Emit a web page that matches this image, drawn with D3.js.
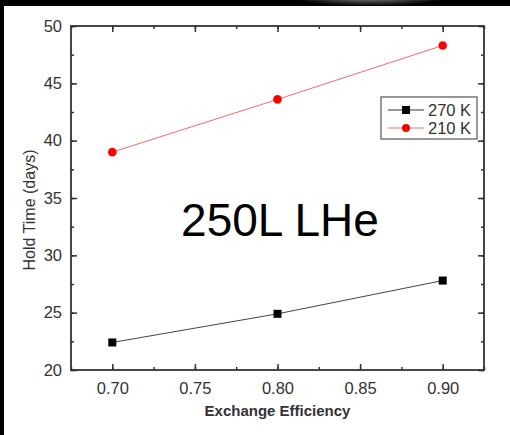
<!DOCTYPE html>
<html>
<head>
<meta charset="utf-8">
<script src="https://cdn.jsdelivr.net/npm/d3@7"></script>
<style>
  html, body { margin: 0; padding: 0; background: #000; }
  svg { display: block; }
</style>
</head>
<body>
<div id="chart"></div>
<script>
// data
const efficiency = [0.70, 0.80, 0.90];
const hold270 = [22.4, 24.9, 27.8];
const hold210 = [39.0, 43.6, 48.3];
const seriesNames = ["270 K", "210 K"];
const xTicks = [0.70, 0.75, 0.80, 0.85, 0.90];
const yTicks = [20, 25, 30, 35, 40, 45, 50];

const W = 510, H = 435;
const margin = { top: 26, right: 26, bottom: 65, left: 71 };
const width = W - margin.left - margin.right;
const height = H - margin.top - margin.bottom;

const svg = d3.select("#chart").append("svg")
    .attr("width", W)
    .attr("height", H);

// black slide border + white page
svg.append("rect").attr("width", W).attr("height", H).attr("fill", "#000");
const grad = svg.append("defs").append("radialGradient").attr("id", "glow");
grad.append("stop").attr("offset", "0%").attr("stop-color", "#9a9a9a");
grad.append("stop").attr("offset", "100%").attr("stop-color", "#000");
svg.append("ellipse")
    .attr("cx", 370).attr("cy", -4).attr("rx", 80).attr("ry", 10)
    .attr("fill", "url(#glow)");
svg.append("rect")
    .attr("x", 4).attr("y", 6)
    .attr("width", W - 4).attr("height", H - 6)
    .attr("fill", "#fff");

const x = d3.scaleLinear().domain([0.675, 0.925]).range([0, width]);
const y = d3.scaleLinear().domain([20, 50]).range([height, 0]);

const g = svg.append("g").attr("transform", `translate(${margin.left},${margin.top})`);

const font = "'Liberation Sans', Arial, sans-serif";
const axisColor = "#333";

// inward ticks on all four sides
const xMinor = d3.range(0.675, 0.926, 0.025).map(v => +v.toFixed(3));
const yMinor = d3.range(20, 50.1, 2.5);

g.append("g").attr("transform", `translate(0,${height})`)
    .call(d3.axisBottom(x).tickValues(xMinor).tickSize(-3).tickFormat(""));
g.append("g").attr("transform", `translate(0,${height})`)
    .call(d3.axisBottom(x).tickValues(xTicks).tickSize(-6).tickPadding(12).tickFormat(d3.format(".2f")));
g.append("g")
    .call(d3.axisTop(x).tickValues(xMinor).tickSize(-3).tickFormat(""));
g.append("g")
    .call(d3.axisTop(x).tickValues(xTicks).tickSize(-6).tickFormat(""));

g.append("g")
    .call(d3.axisLeft(y).tickValues(yMinor).tickSize(-3).tickFormat(""));
g.append("g")
    .call(d3.axisLeft(y).tickValues(yTicks).tickSize(-6).tickPadding(9).tickFormat(d3.format("d")));
g.append("g").attr("transform", `translate(${width},0)`)
    .call(d3.axisRight(y).tickValues(yMinor).tickSize(-3).tickFormat(""));
g.append("g").attr("transform", `translate(${width},0)`)
    .call(d3.axisRight(y).tickValues(yTicks).tickSize(-6).tickFormat(""));

g.selectAll(".domain").remove();
g.selectAll(".tick line").attr("stroke", axisColor).attr("stroke-width", 1.5);
g.selectAll(".tick text")
    .attr("fill", "#333")
    .style("font-family", font)
    .style("font-size", "16.5px");

// frame
g.append("rect")
    .attr("width", width).attr("height", height)
    .attr("fill", "none")
    .attr("stroke", axisColor)
    .attr("stroke-width", 1.8);

const line = d3.line().x((d, i) => x(efficiency[i])).y(d => y(d));

// 270 K
g.append("path").datum(hold270)
    .attr("d", line)
    .attr("fill", "none").attr("stroke", "#444").attr("stroke-width", 1);
g.selectAll(".sq").data(hold270).enter().append("rect")
    .attr("x", (d, i) => x(efficiency[i]) - 4)
    .attr("y", d => y(d) - 4)
    .attr("width", 8).attr("height", 8)
    .attr("fill", "#000");

// 210 K
g.append("path").datum(hold210)
    .attr("d", line)
    .attr("fill", "none").attr("stroke", "#f36a6a").attr("stroke-width", 1);
g.selectAll(".dot").data(hold210).enter().append("circle")
    .attr("cx", (d, i) => x(efficiency[i]))
    .attr("cy", d => y(d))
    .attr("r", 4.3)
    .attr("fill", "#f00");

// legend
const leg = svg.append("g").attr("transform", "translate(381,97)");
leg.append("rect")
    .attr("width", 96).attr("height", 42)
    .attr("fill", "#fff").attr("stroke", "#555").attr("stroke-width", 1.2);
const legRows = leg.selectAll(".row").data(seriesNames).enter().append("g")
    .attr("transform", (d, i) => `translate(0,${13 + i * 18})`);
legRows.append("line")
    .attr("x1", 7).attr("x2", 43)
    .attr("stroke", (d, i) => i ? "#f36a6a" : "#333").attr("stroke-width", 1);
legRows.filter((d, i) => i === 0).append("rect")
    .attr("x", 21).attr("y", -4).attr("width", 8).attr("height", 8).attr("fill", "#000");
legRows.filter((d, i) => i === 1).append("circle")
    .attr("cx", 25).attr("r", 4).attr("fill", "#f00");
legRows.append("text")
    .attr("x", 47).attr("y", 6)
    .style("font-family", font).style("font-size", "16.5px")
    .attr("fill", "#333")
    .text(d => d);

// axis titles
svg.append("text")
    .attr("x", margin.left + x(0.80)).attr("y", 416)
    .attr("text-anchor", "middle")
    .style("font-family", font).style("font-size", "15px").style("font-weight", "bold")
    .attr("fill", "#333")
    .text("Exchange Efficiency");
svg.append("text")
    .attr("transform", `translate(35,210) rotate(-90)`)
    .attr("text-anchor", "middle")
    .style("font-family", font).style("font-size", "16px")
    .attr("fill", "#333")
    .text("Hold Time (days)");

// annotation
svg.append("text")
    .attr("x", 280).attr("y", 236)
    .attr("text-anchor", "middle")
    .style("font-family", font).style("font-size", "46px")
    .attr("fill", "#000")
    .text("250L LHe");
</script>
</body>
</html>
